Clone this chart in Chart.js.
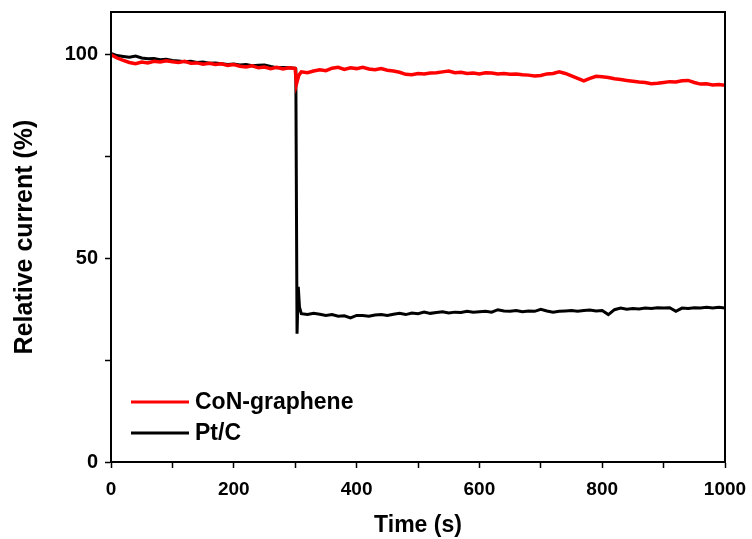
<!DOCTYPE html>
<html>
<head>
<meta charset="utf-8">
<script src="https://cdn.jsdelivr.net/npm/chart.js@4.4.1/dist/chart.umd.min.js"></script>
<style>
  html, body { margin: 0; padding: 0; background: #fff; }
  #wrap { width: 752px; height: 539px; }
</style>
</head>
<body>
<div id="wrap"><canvas id="grafico"></canvas></div>
<script>
// tempos (s) e correntes relativas (%)
const tempoCoN = [0,10,20,30,40,50,60,70,80,90,100,110,120,130,140,150,160,170,180,190,200,210,220,230,240,250,260,270,280,290,300,302,306,310,320,330,340,350,360,370,380,390,400,410,420,430,440,450,460,470,480,490,500,510,520,530,540,550,560,570,580,590,600,610,620,630,640,650,660,670,680,690,700,710,720,730,740,750,760,770,780,790,800,810,820,830,840,850,860,870,880,890,900,910,920,930,940,950,960,970,980,990,1000];
const correnteCoN = [100,99.2,98.6,98.1,97.8,98.2,98.0,98.4,98.2,98.5,98.3,98.1,98.4,97.9,98.0,97.7,97.9,97.6,97.8,97.4,97.6,97.2,97.0,97.3,96.8,97.0,96.6,96.9,96.5,96.8,96.6,92.8,95.0,95.8,95.6,96.0,96.3,96.1,96.7,96.9,96.4,96.8,96.6,96.9,96.5,96.3,96.6,96.2,96.0,95.7,95.2,95.1,95.4,95.3,95.5,95.6,95.8,96.0,95.6,95.7,95.4,95.5,95.3,95.6,95.5,95.3,95.4,95.2,95.3,95.1,95.0,94.8,94.9,95.3,95.4,95.8,95.4,94.8,94.2,93.6,94.2,94.7,94.6,94.4,94.1,93.9,93.7,93.5,93.3,93.2,92.9,93.0,93.2,93.4,93.3,93.6,93.7,93.2,92.8,92.9,92.6,92.7,92.5];

const tempoPt = [0,10,20,30,40,50,60,70,80,90,100,110,120,130,140,150,160,170,180,190,200,210,220,230,240,250,260,270,280,290,300,301,303,305,307,310,320,330,340,350,360,370,380,390,400,410,420,430,440,450,460,470,480,490,500,510,520,530,540,550,560,570,580,590,600,610,620,630,640,650,660,670,680,690,700,710,720,730,740,750,760,770,780,790,800,810,820,830,840,850,860,870,880,890,900,910,920,930,940,950,960,970,980,990,1000];
const correntePt = [100.3,99.8,99.6,99.4,99.7,99.2,99.0,99.1,98.8,98.9,98.6,98.5,98.3,98.4,98.1,98.2,97.9,98.0,97.8,97.6,97.7,97.5,97.6,97.3,97.4,97.5,97.1,96.8,96.9,96.8,96.7,96.5,31.5,43.0,38.0,36.4,36.2,36.5,36.3,36.0,36.2,35.8,35.9,35.4,36.0,36.0,35.8,36.1,36.2,36.0,36.3,36.5,36.2,36.6,36.4,36.8,36.5,36.7,36.9,36.6,36.8,36.7,37.0,36.8,36.9,37.0,36.8,37.4,37.1,37.0,37.2,36.9,37.1,37.0,37.5,37.1,36.8,37.0,37.1,37.2,37.0,37.2,37.3,37.1,37.2,36.2,37.4,37.8,37.5,37.7,37.6,37.8,37.7,37.9,37.8,37.9,37.0,37.8,37.7,37.9,37.8,38.0,37.8,38.0,37.8];

const rotulos = ["CoN-graphene", "Pt/C"];
const cores = ["#ff0000", "#000000"];

function pares(xs, ys) {
    return xs.map((x, i) => ({ x: x, y: ys[i] }));
}

const fonte = "'Liberation Sans', Arial, sans-serif";

// moldura em volta da área do gráfico
const moldura = {
    id: "moldura",
    afterDatasetsDraw(chart) {
        const a = chart.chartArea, c = chart.ctx;
        c.save();
        c.strokeStyle = "#000";
        c.lineWidth = 2;
        c.strokeRect(a.left, a.top, a.right - a.left, a.bottom - a.top);
        c.restore();
    }
};

// legenda dentro da área, canto inferior esquerdo
const legendaInterna = {
    id: "legendaInterna",
    afterDraw(chart) {
        const c = chart.ctx;
        c.save();
        c.font = "bold 23px " + fonte;
        c.textBaseline = "middle";
        chart.data.datasets.forEach((ds, i) => {
            const y = 402 + i * 31;
            c.strokeStyle = ds.borderColor;
            c.lineWidth = 3;
            c.beginPath();
            c.moveTo(131, y);
            c.lineTo(189, y);
            c.stroke();
            c.fillStyle = "#000";
            c.fillText(ds.label, 195, y + 1);
        });
        c.restore();
    }
};

const ctx = document.getElementById("grafico");

new Chart(ctx, {
    type: "line",
    data: {
        datasets: [
            {
                label: rotulos[0],
                data: pares(tempoCoN, correnteCoN),
                borderColor: cores[0],
                borderWidth: 3.5,
                pointRadius: 0,
                tension: 0
            },
            {
                label: rotulos[1],
                data: pares(tempoPt, correntePt),
                borderColor: cores[1],
                borderWidth: 3,
                pointRadius: 0,
                tension: 0
            }
        ]
    },
    options: {
        responsive: true,
        maintainAspectRatio: false,
        animation: false,
        layout: { padding: { top: 12, right: 27, left: 0, bottom: 0 } },
        plugins: {
            legend: { display: false },
            tooltip: { enabled: false }
        },
        scales: {
            x: {
                type: "linear",
                min: 0,
                max: 1000,
                afterBuildTicks: s => { s.ticks = s.ticks.filter(t => t.value % 100 === 0); },
                afterFit: s => { s.height = 77; s.paddingLeft = 0; s.paddingRight = 0; },
                ticks: {
                    stepSize: 100,
                    autoSkip: false,
                    maxRotation: 0,
                    padding: 10,
                    color: "#000",
                    font: { family: fonte, size: 19, weight: "bold" },
                    callback: v => (v % 200 === 0 ? v : "")
                },
                grid: { drawOnChartArea: false, drawTicks: true, tickLength: 6, tickColor: "#000", tickWidth: 1.5 },
                border: { color: "#000", width: 2 },
                title: {
                    display: true,
                    text: "Time (s)",
                    color: "#000",
                    font: { family: fonte, size: 23, weight: "bold" },
                    padding: { top: 0, bottom: 0 }
                }
            },
            y: {
                min: 0,
                max: 110.5,
                afterBuildTicks: s => { s.ticks = s.ticks.filter(t => t.value % 25 === 0); },
                afterFit: s => { s.width = 111; s.paddingTop = 0; s.paddingBottom = 0; },
                ticks: {
                    stepSize: 25,
                    autoSkip: false,
                    padding: 7,
                    color: "#000",
                    font: { family: fonte, size: 20, weight: "bold" },
                    callback: v => (v % 50 === 0 ? v : "")
                },
                grid: { drawOnChartArea: false, drawTicks: true, tickLength: 6, tickColor: "#000", tickWidth: 1.5 },
                border: { color: "#000", width: 2 },
                title: {
                    display: true,
                    text: "Relative current (%)",
                    color: "#000",
                    font: { family: fonte, size: 25, weight: "bold" },
                    padding: { top: 10, bottom: 0 }
                }
            }
        }
    },
    plugins: [moldura, legendaInterna]
});
</script>
</body>
</html>
